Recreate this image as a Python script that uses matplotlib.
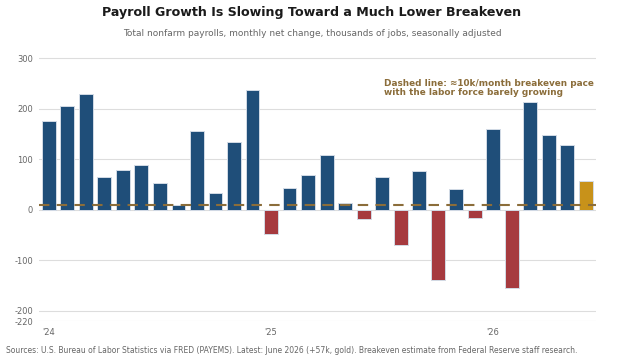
import numpy as np
import matplotlib
matplotlib.use('Agg')
import matplotlib.pyplot as plt

# Monthly net change in nonfarm payrolls, thousands (Jan 2024 .. Jun 2026)
values = [175, 206, 229, 65, 78, 88, 53, 9, 156, 34, 134, 237,
          -47, 43, 68, 108, 13, -19, 65, -69, 76, -138, 41, -16,
          160, -155, 214, 148, 129, 57]
year_labels = ["'24", "'25", "'26"]
year_positions = [0, 12, 24]
breakeven = 10
y_ticks = [300, 200, 100, 0, -100, -200, -220]

color_pos = '#1f4e79'
color_neg = '#a63a3f'
color_last = '#c8921a'
color_line = '#8b6d3a'
color_text = '#666666'

x = np.arange(len(values))
colors = [color_pos if v >= 0 else color_neg for v in values]
colors[-1] = color_last

fig = plt.figure(figsize=(6.24, 3.6), dpi=100)
ax = fig.add_axes([0.062, 0.108, 0.893, 0.759])

ax.bar(x, values, width=0.75, color=colors, edgecolor='#d3dbe6', linewidth=0.7, zorder=2)
ax.axhline(breakeven, color=color_line, linestyle=(0, (5, 3.5)), linewidth=1.5, zorder=3)

ax.set_xlim(-0.55, len(values) - 0.45)
ax.set_ylim(-220, 320)
ax.set_yticks(y_ticks)
ax.set_yticklabels([str(t) for t in y_ticks])
ax.set_xticks(year_positions)
ax.set_xticklabels(year_labels)
ax.tick_params(axis='both', length=0, labelsize=6, colors=color_text)
ax.tick_params(axis='x', pad=5)
ax.tick_params(axis='y', pad=4)
ax.grid(axis='y', color='#dddddd', linewidth=0.8, zorder=0)
for spine in ax.spines.values():
    spine.set_visible(False)

ax.text(18.1, 259, 'Dashed line: \u224810k/month breakeven pace\nwith the labor force barely growing',
        fontsize=6.4, fontweight='bold', color=color_line, ha='left', va='top', linespacing=1.0)

fig.text(0.5, 0.966, 'Payroll Growth Is Slowing Toward a Much Lower Breakeven',
         ha='center', va='center', fontsize=9.1, fontweight='bold', color='#1a1a1a')
fig.text(0.5, 0.908, 'Total nonfarm payrolls, monthly net change, thousands of jobs, seasonally adjusted',
         ha='center', va='center', fontsize=6.5, color=color_text)
fig.text(0.01, 0.027, 'Sources: U.S. Bureau of Labor Statistics via FRED (PAYEMS). Latest: June 2026 (+57k, gold). '
         'Breakeven estimate from Federal Reserve staff research.',
         ha='left', va='center', fontsize=5.5, color=color_text)

fig.savefig('out.png', dpi=100)
